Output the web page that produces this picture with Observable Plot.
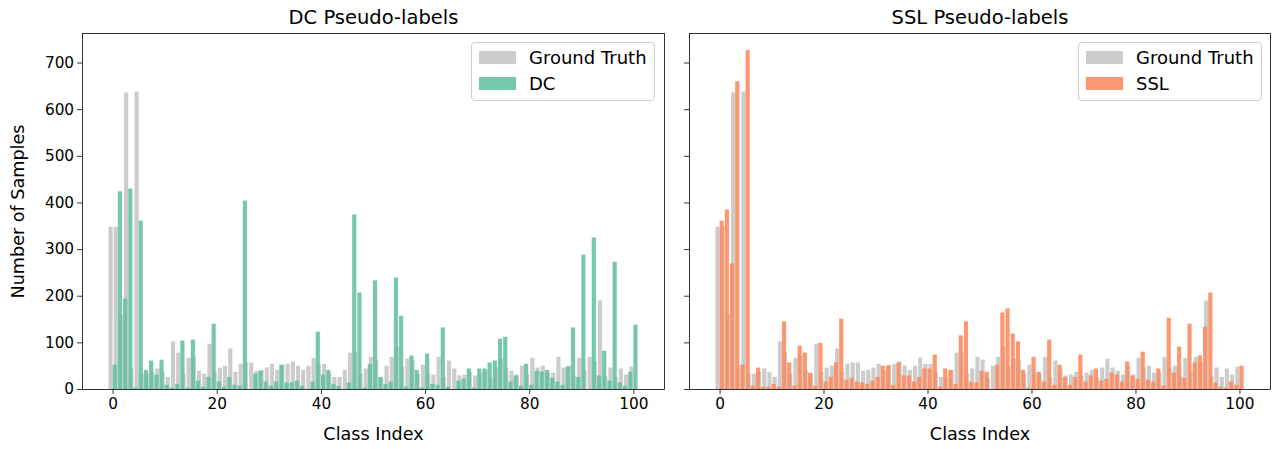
<!DOCTYPE html>
<html>
<head>
<meta charset="utf-8">
<script src="https://cdn.jsdelivr.net/npm/d3@7"></script>
<script src="https://cdn.jsdelivr.net/npm/@observablehq/plot@0.6"></script>
<style>
  html, body { margin: 0; padding: 0; background: #fff; }
  #fig { position: relative; width: 1276px; height: 449px; font-family: "DejaVu Sans", sans-serif; overflow: hidden; }
  #fig > svg { position: absolute; top: 0; }
  .legend { position: absolute; box-sizing: border-box; border: 1px solid rgba(204,204,204,1); border-radius: 4px; background: rgba(255,255,255,0.8); }
  .sw { position: absolute; }
  .lt { position: absolute; font-size: 18px; line-height: 18px; color: #000; white-space: nowrap; }
</style>
</head>
<body>
<div id="fig"></div>
<script>
// ---- data ----
const classIndex = Array.from({length: 101}, (_, i) => i);

const groundTruth = [
  348, 348, 160, 636, 44, 638, 33, 33, 37, 44,
  37, 26, 102, 78, 33, 67, 72, 39, 33, 97,
  37, 46, 50, 87, 37, 54, 57, 57, 39, 41,
  46, 54, 41, 52, 54, 59, 50, 41, 50, 67,
  54, 54, 35, 26, 26, 41, 78, 80, 33, 44,
  69, 63, 24, 50, 69, 91, 48, 65, 61, 33,
  52, 33, 31, 69, 26, 61, 44, 29, 31, 37,
  29, 35, 41, 26, 46, 65, 46, 39, 31, 50,
  31, 67, 46, 50, 35, 35, 69, 46, 50, 29,
  67, 39, 69, 59, 190, 28, 46, 26, 44, 31,
  48
];

const dcCounts = [
  52, 424, 194, 430, 3, 361, 41, 61, 31, 63,
  9, 3, 11, 104, 3, 106, 18, 5, 26, 140,
  16, 5, 26, 9, 7, 404, 0, 33, 39, 16,
  7, 16, 52, 14, 14, 18, 7, 0, 16, 123,
  31, 41, 11, 7, 0, 14, 374, 207, 3, 54,
  233, 26, 11, 16, 239, 157, 5, 72, 41, 3,
  76, 11, 9, 132, 5, 0, 18, 22, 44, 3,
  44, 44, 57, 61, 108, 112, 16, 29, 7, 54,
  9, 39, 37, 41, 24, 16, 9, 48, 132, 26,
  288, 0, 325, 29, 82, 18, 273, 14, 7, 37,
  138
];

const sslCounts = [
  361, 385, 269, 660, 52, 727, 7, 46, 5, 5,
  11, 5, 145, 57, 7, 93, 78, 35, 7, 99,
  16, 26, 57, 151, 20, 24, 16, 14, 11, 18,
  26, 50, 50, 9, 57, 29, 29, 16, 26, 44,
  44, 74, 5, 44, 41, 11, 115, 145, 16, 14,
  39, 37, 0, 52, 164, 173, 119, 102, 41, 3,
  69, 37, 16, 106, 9, 52, 26, 9, 26, 74,
  16, 29, 44, 18, 22, 35, 31, 16, 59, 29,
  22, 80, 20, 16, 44, 7, 153, 35, 91, 24,
  140, 57, 72, 134, 207, 14, 5, 3, 16, 9,
  50
];

const xTicks = [0, 20, 40, 60, 80, 100];
const yTicks = [0, 100, 200, 300, 400, 500, 600, 700];
const panelTitles = ["DC Pseudo-labels", "SSL Pseudo-labels"];
const seriesNames = ["Ground Truth", "DC", "SSL"];
const xLabel = "Class Index";
const yLabel = "Number of Samples";

const gtColor = "gray";
const gtOpacity = 0.4;
const predColors = ["#66c2a5", "#fc8d62"];
const predOpacity = 0.9;

// ---- drawing ----
const fig = document.getElementById("fig");
const FS_TICK = 15.3, FS_TITLE = 19.5, FS_LABEL = 17.6;

function panel({title, pred, color, svgLeft, width, marginLeft, marginRight, showYLabels}) {
  const rows = classIndex.map((c, k) => ({c, gt: groundTruth[k], pred: pred[k]}));
  const marks = [
    Plot.rectY(rows, {x1: d => d.c - 0.8, x2: d => d.c, y1: 0, y2: "gt", fill: gtColor, fillOpacity: gtOpacity}),
    Plot.rectY(rows, {x1: d => d.c, x2: d => d.c + 0.8, y1: 0, y2: "pred", fill: color, fillOpacity: predOpacity}),
    Plot.frame({stroke: "black", strokeWidth: 0.8}),
    Plot.axisX({ticks: xTicks, tickSize: 4.9, tickPadding: 3.5, fontSize: FS_TICK, label: null, stroke: "black", strokeWidth: 0.8, fill: "black"}),
    Plot.axisY({ticks: yTicks, tickSize: 4.9, tickPadding: 3.5, fontSize: FS_TICK, label: null, stroke: "black", strokeWidth: 0.8, fill: "black",
      tickFormat: showYLabels ? (d => String(d)) : (() => "")}),
    Plot.text([title], {frameAnchor: "top", dy: -16, lineAnchor: "middle", textAnchor: "middle", fontSize: FS_TITLE, fill: "black"}),
    Plot.text([xLabel], {frameAnchor: "bottom", dy: 45, lineAnchor: "middle", textAnchor: "middle", fontSize: FS_LABEL, fill: "black"})
  ];
  if (showYLabels) {
    marks.push(Plot.text([yLabel], {frameAnchor: "left", dx: -64, rotate: -90, lineAnchor: "middle", textAnchor: "middle", fontSize: FS_LABEL, fill: "black"}));
  }
  const svg = Plot.plot({
    width, height: 449,
    marginLeft, marginRight, marginTop: 33, marginBottom: 60,
    x: {domain: [-5.88, 105.88]},
    y: {domain: [0, 763.35]},
    style: {fontFamily: "DejaVu Sans", fontSize: FS_TICK + "px", background: "transparent", overflow: "visible", color: "black"},
    marks
  });
  svg.style.left = svgLeft + "px";
  fig.appendChild(svg);
}

panel({title: panelTitles[0], pred: dcCounts, color: predColors[0], svgLeft: 0, width: 676, marginLeft: 82, marginRight: 12, showYLabels: true});
panel({title: panelTitles[1], pred: sslCounts, color: predColors[1], svgLeft: 676, width: 600, marginLeft: 13, marginRight: 6, showYLabels: false});

function legend(left, predName, predColor) {
  const box = document.createElement("div");
  box.className = "legend";
  box.style.left = left + "px";
  box.style.top = "42px";
  box.style.width = "184px";
  box.style.height = "59px";
  const entries = [
    {name: seriesNames[0], color: gtColor, op: gtOpacity},
    {name: predName, color: predColor, op: predOpacity}
  ];
  entries.forEach((e, k) => {
    const sw = document.createElement("div");
    sw.className = "sw";
    sw.style.left = "7px";
    sw.style.top = (8 + k * 26) + "px";
    sw.style.width = "37px";
    sw.style.height = "13px";
    sw.style.background = e.color;
    sw.style.opacity = e.op;
    box.appendChild(sw);
    const t = document.createElement("div");
    t.className = "lt";
    t.style.left = "57px";
    t.style.top = (5.5 + k * 26) + "px";
    t.textContent = e.name;
    box.appendChild(t);
  });
  fig.appendChild(box);
}
legend(471, seriesNames[1], predColors[0]);
legend(1078, seriesNames[2], predColors[1]);
</script>
</body>
</html>
